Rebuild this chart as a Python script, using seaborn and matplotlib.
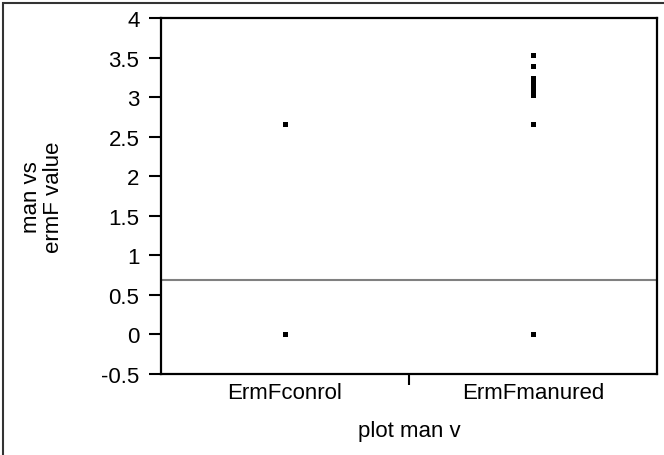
import pandas as pd
import matplotlib
matplotlib.use("Agg")
import matplotlib.pyplot as plt
import matplotlib.patches as patches
import seaborn as sns

groups = ['ErmFconrol', 'ErmFmanured']
control_vals = [0.0, 0.0, 2.66]
manured_vals = [0.0, 0.0, 2.66, 3.03, 3.06, 3.09, 3.12, 3.15, 3.18, 3.21, 3.24, 3.39, 3.53]
ref_line = 0.69
y_ticks = [-0.5, 0, 0.5, 1, 1.5, 2, 2.5, 3, 3.5, 4]
y_ticklabels = ['-0.5', '0', '0.5', '1', '1.5', '2', '2.5', '3', '3.5', '4']

df = pd.DataFrame({
    'group': [groups[0]] * len(control_vals) + [groups[1]] * len(manured_vals),
    'value': control_vals + manured_vals,
})

sns.set_theme(style='ticks')
plt.rcParams['font.family'] = ['Liberation Sans', 'DejaVu Sans']
fs = 16

fig = plt.figure(figsize=(6.64, 4.56), dpi=100)
ax = fig.add_axes([161 / 664, 1 - 375 / 456, 496 / 664, 356 / 456])

sns.stripplot(data=df, x='group', y='value', order=groups, jitter=False,
              marker='s', size=3.6, color='black', linewidth=0, ax=ax)
ax.axhline(ref_line, color='#808080', lw=1.5, zorder=1)

ax.set_xlim(-0.5, 1.5)
ax.set_ylim(-0.5, 4)
ax.set_yticks(y_ticks)
ax.set_yticklabels(y_ticklabels)
ax.tick_params(axis='y', direction='out', length=8.5, width=1.5, pad=7,
               labelsize=fs, color='black', labelcolor='black')
ax.set_xticks([0, 1])
ax.set_xticklabels(groups)
ax.tick_params(axis='x', which='major', length=0, pad=6, labelsize=fs,
               labelcolor='black')
ax.set_xticks([0.5], minor=True)
ax.tick_params(axis='x', which='minor', direction='out', length=8, width=1.5,
               color='black')

for s in ax.spines.values():
    s.set_color('black')
    s.set_linewidth(1.6)

ax.set_xlabel('plot man v', fontsize=fs, color='black', labelpad=12)
ax.set_ylabel('man vs\nermF value', fontsize=fs, color='black',
              multialignment='center', linespacing=1.1)
ax.yaxis.set_label_coords(-0.195, 0.5)

frame = patches.Rectangle((3 / 664, -0.1), 1.2, 1.1 - 3.5 / 456,
                          transform=fig.transFigure, fill=False,
                          edgecolor='#333333', lw=1.5, clip_on=False)
fig.patches.append(frame)

fig.savefig('out.png', dpi=100)
